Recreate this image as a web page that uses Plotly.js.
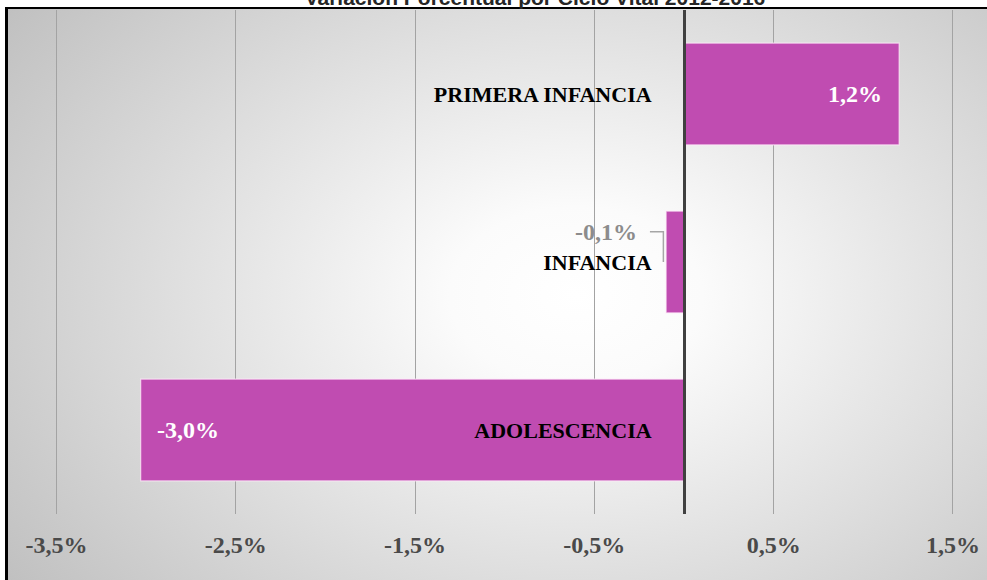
<!DOCTYPE html>
<html>
<head>
<meta charset="utf-8">
<script src="https://cdn.plot.ly/plotly-3.0.1.min.js"></script>
<style>
  html, body { margin: 0; padding: 0; background: #ffffff; overflow: hidden; }
  #wrap { position: relative; width: 987px; height: 580px; overflow: hidden; background: #ffffff; }
  #frame { position: absolute; left: 5px; top: 7px; width: 1100px; height: 700px;
           border-left: 3px solid #000; border-top: 2px solid #000;
           background-image: radial-gradient(702px 489px at 568px 286px, #ffffff 0%, #fbfbfb 18%, #c0c0c0 100%);
           background-repeat: no-repeat; background-color: #c0c0c0; }
  #chart { position: absolute; left: 0; top: 0; width: 987px; height: 580px; }
</style>
</head>
<body>
<div id="wrap">
  <div id="frame"></div>
  <div id="chart"></div>
</div>
<script>
// ---- data ----
const categories = ["PRIMERA INFANCIA", "INFANCIA", "ADOLESCENCIA"];
const values = [1.2, -0.1, -3.03];
const valueLabels = ["1,2%", "-0,1%", "-3,0%"];
const tickValues = [-3.5, -2.5, -1.5, -0.5, 0.5, 1.5];
const tickLabels = ["-3,5%", "-2,5%", "-1,5%", "-0,5%", "0,5%", "1,5%"];
const chartTitle = "Variación Porcentual por Ciclo Vital 2012-2016";

const xMin = -3.770, xMax = 1.595;
const positions = categories.map((c, i) => i);

const serif = "Liberation Serif, Times New Roman, serif";

const trace = {
  type: "bar",
  orientation: "h",
  x: values,
  y: positions,
  width: 0.606,
  marker: { color: "#C04CB1", line: { color: "rgba(255,235,250,0.75)", width: 1.2 } },
  hoverinfo: "skip"
};

const annotations = [];
const shapes = [];
values.forEach((v, i) => {
  const small = Math.abs(v) < 0.5;
  if (!small) {
    annotations.push({
      x: v, y: positions[i], xref: "x", yref: "y",
      text: valueLabels[i], showarrow: false,
      xanchor: v >= 0 ? "right" : "left",
      xshift: v >= 0 ? -15 : 14,
      font: { family: serif, size: 24, color: "#ffffff", weight: "bold" }
    });
  } else {
    annotations.push({
      x: v, y: positions[i], xref: "x", yref: "y",
      text: valueLabels[i], showarrow: false,
      xanchor: "right", yanchor: "middle",
      xshift: -27, yshift: 30,
      font: { family: serif, size: 24, color: "#8c8c8c", weight: "bold" }
    });
    shapes.push({
      type: "path", xref: "x", yref: "y",
      path: `M ${v - 0.09},${positions[i] - 0.18} L ${v - 0.015},${positions[i] - 0.18} L ${v - 0.015},${positions[i]}`,
      line: { color: "#a6a6a6", width: 1.5 }
    });
  }
});

const layout = {
  width: 987, height: 580,
  margin: { l: 8, r: 17, t: 10, b: 66, pad: 0 },
  paper_bgcolor: "rgba(0,0,0,0)",
  plot_bgcolor: "rgba(0,0,0,0)",
  showlegend: false,
  title: {
    text: chartTitle,
    font: { family: "Liberation Sans, Arial, sans-serif", size: 21, color: "#262626", weight: "bold" },
    x: 0.542, xanchor: "center", xref: "container",
    y: 1 - 5 / 580, yanchor: "bottom", yref: "container"
  },
  xaxis: {
    range: [xMin, xMax],
    tickmode: "array", tickvals: tickValues, ticktext: tickLabels,
    showgrid: true, gridcolor: "#a3a3a3", gridwidth: 1,
    zeroline: false, showline: false, ticks: "",
    ticklabelstandoff: 14,
    tickfont: { family: serif, size: 24, color: "#4a4a4a", weight: "bold" },
    fixedrange: true
  },
  yaxis: {
    range: [2.5, -0.5],
    tickmode: "array", tickvals: positions, ticktext: categories,
    anchor: "free", position: (0 - xMin) / (xMax - xMin), side: "left",
    showline: true, linecolor: "#404040", linewidth: 3,
    showgrid: false, zeroline: false, ticks: "",
    ticklabelstandoff: 27,
    tickfont: { family: serif, size: 22, color: "#000000", weight: "bold" },
    fixedrange: true
  },
  annotations: annotations,
  shapes: shapes
};

Plotly.newPlot("chart", [trace], layout, { staticPlot: true, displayModeBar: false });
</script>
</body>
</html>
